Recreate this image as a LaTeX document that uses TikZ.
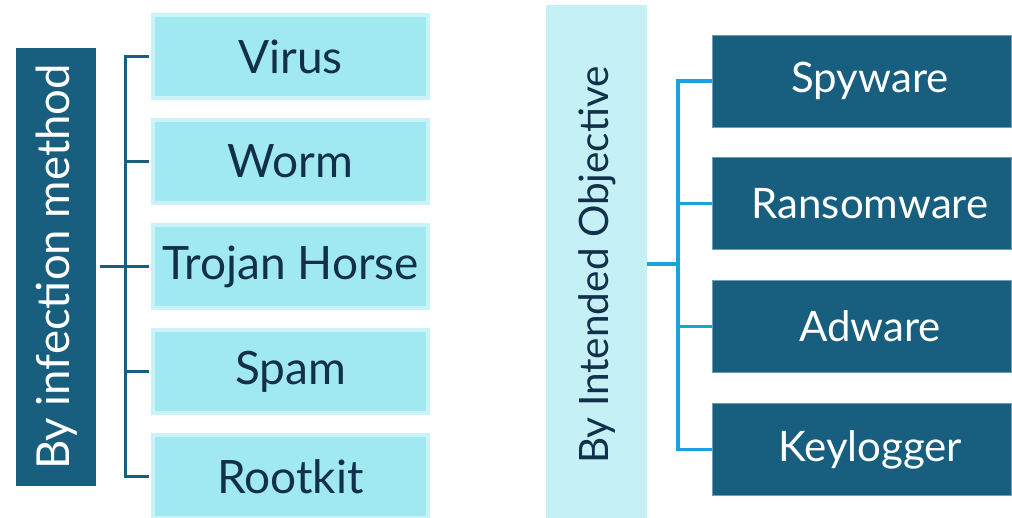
\documentclass[tikz,border=0pt]{standalone}
\usepackage{fontspec}
\setmainfont{Lato}
\definecolor{deepteal}{HTML}{175E7F}
\definecolor{paleaqua}{HTML}{A0E9F1}
\definecolor{paleedge}{HTML}{C9F3F8}
\definecolor{palebar}{HTML}{C5F0F6}
\definecolor{inknavy}{HTML}{12304A}
\definecolor{brightblue}{HTML}{19A3DA}
\definecolor{tealedge}{HTML}{6E9DB5}
\tikzset{
  leftbox/.style={fill=paleaqua, draw=paleedge, line width=4pt,
    minimum width=275pt, minimum height=83pt, inner sep=0pt,
    text=inknavy, font=\fontsize{46}{52}\selectfont},
  % labels in the dark boxes sit a little right of centre
  rightbox/.style={fill=deepteal, draw=tealedge, line width=0.8pt,
    minimum width=299pt, minimum height=92pt, inner sep=0pt,
    text=white, font=\fontsize{42}{48}\selectfont,
    execute at begin node=\hspace*{16pt}},
  leftbar/.style={fill=deepteal, draw=none, minimum width=80pt,
    minimum height=438pt, inner sep=0pt},
  rightbar/.style={fill=palebar, draw=none, minimum width=101pt,
    minimum height=513pt, inner sep=0pt},
  lconn/.style={draw=deepteal, line width=3pt},
  rconn/.style={draw=brightblue, line width=3.5pt},
}
\begin{document}
\begin{tikzpicture}[x=1pt, y=-1pt]
\useasboundingbox (0,0) rectangle (1012,518);

% category bars
\node[leftbar] (lbar) at (56,267) {};
\node[rotate=90, text=white, font=\fontsize{45.5}{52}\selectfont] (ltitle) at (57,267) {By infection method};
\node[rightbar] (rbar) at (596.5,261.5) {};
\node[rotate=90, text=inknavy, font=\fontsize{40.5}{48}\selectfont] (rtitle) at (597,265) {By Intended Objective};

% infection-method types
\node[leftbox] (virus)   at (290.5,56.5)  {Virus};
\node[leftbox] (worm)    at (290.5,161.5) {Worm};
\node[leftbox] (trojan)  at (290.5,266.5) {Trojan Horse};
\node[leftbox] (spam)    at (290.5,372)   {Spam};
\node[leftbox] (rootkit) at (290.5,476.5) {Rootkit};

% objective types
\node[rightbox] (spyware)    at (862,81)    {Spyware};
\node[rightbox] (ransomware) at (862,203.5) {Ransomware};
\node[rightbox] (adware)     at (862,326.5) {Adware};
\node[rightbox] (keylogger)  at (862,449.5) {Keylogger};

% left bracket
\coordinate (ljoin) at (125,267);
\draw[lconn] ([xshift=4pt]lbar.east) -- (ljoin);
\draw[lconn] ([xshift=-2pt]virus.west) -| (ljoin) |- ([xshift=-2pt]rootkit.west);
\draw[lconn] (ljoin) |- ([xshift=-2pt]worm.west);
\draw[lconn] (ljoin) |- ([xshift=-2pt]trojan.west);
\draw[lconn] (ljoin) |- ([xshift=-2pt]spam.west);

% right bracket
\coordinate (rjoin) at (678,264);
\draw[rconn] (rbar.east |- rjoin) -- (rjoin);
\draw[rconn] (spyware.west) -| (rjoin) |- (keylogger.west);
\draw[rconn] (rjoin) |- (ransomware.west);
\draw[rconn] (rjoin) |- (adware.west);
\end{tikzpicture}
\end{document}
